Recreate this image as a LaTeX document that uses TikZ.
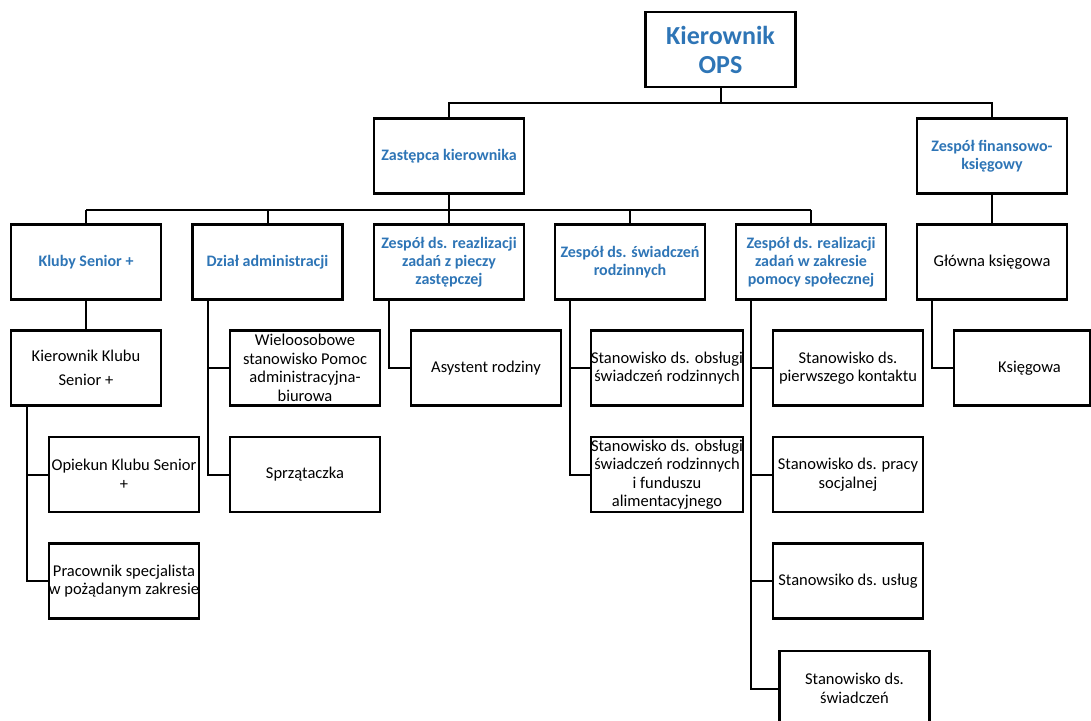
\documentclass[tikz,border=0pt]{standalone}
\usepackage{fontspec}
\setmainfont{Carlito}
\definecolor{headblue}{HTML}{2E75B6}
\tikzset{
  box/.style={draw, line width=2.4pt, minimum width=150pt, minimum height=75pt, inner sep=0pt, align=center},
  head/.style={box, text=headblue, font=\bfseries\fontsize{16}{18}\selectfont},
  plain/.style={box, font=\fontsize{16.5}{18.5}\selectfont},
  conn/.style={line width=2pt},
  busline/.style={line width=2.8pt}
}
\begin{document}
\begin{tikzpicture}[x=1pt,y=-1pt]
\useasboundingbox (0,0) rectangle (1091,720);
\clip (0,0) rectangle (1091,720);
% top
\node[head, font=\bfseries\fontsize{26}{29}\selectfont] (kier) at (720.5,49.5) {Kierownik\\OPS};
\node[head] (zast) at (449,156) {Zastępca kierownika};
\node[head] (fin) at (992,156) {Zespół finansowo-\\księgowy};
% row 2
\node[head] (kluby) at (86,262) {Kluby Senior +};
\node[head] (dzial) at (267.5,262) {Dział administracji};
\node[head] (piecz) at (449,262) {Zespół ds. reazlizacji\\zadań z pieczy\\zastępczej};
\node[head] (swiad) at (630,262) {Zespół ds. świadczeń\\rodzinnych};
\node[head] (pomoc) at (811,262) {Zespół ds. realizacji\\zadań w zakresie\\pomocy społecznej};
\node[plain] (glowna) at (992,262) {Główna księgowa};
% row 3
\node[plain] (kklub) at (86,368) {Kierownik Klubu\\[5.5pt]Senior +};
\node[plain] (wielo) at (305,368) {Wieloosobowe\\stanowisko Pomoc\\administracyjna-\\biurowa};
\node[plain] (asyst) at (486,368) {Asystent rodziny};
\node[plain] (obsl) at (667,368) {Stanowisko ds. obsługi\\świadczeń rodzinnych};
\node[plain] (pierw) at (848,368) {Stanowisko ds.\\pierwszego kontaktu};
\node[plain, minimum width=136pt] (ksieg) at (1022,368) {\hspace*{15pt}Księgowa};
% row 4
\node[plain] (opiek) at (124,474.5) {Opiekun Klubu Senior\\+};
\node[plain] (sprz) at (305,474.5) {Sprzątaczka};
\node[plain] (obsl2) at (667,474.5) {Stanowisko ds. obsługi\\świadczeń rodzinnych\\i funduszu\\alimentacyjnego};
\node[plain] (prac) at (848,474.5) {Stanowisko ds. pracy\\socjalnej};
% row 5
\node[plain] (pracsp) at (124,581) {Pracownik specjalista\\w pożądanym zakresie};
\node[plain] (uslug) at (848,581) {Stanowsiko ds. usług};
% row 6
\node[plain] (swiadcz) at (854.5,688.5) {Stanowisko ds.\\świadczeń};
% connectors
\coordinate (bus1) at (0,103);
\coordinate (bus2) at (0,210);
\draw[conn] (kier.south) -- (kier.south |- bus1);
\draw[conn] (zast.north) -- (zast.north |- bus1) -- (fin.north |- bus1) -- (fin.north);
\draw[busline] (kluby.north |- bus2) -- (pomoc.north |- bus2);
\draw[conn] (zast.south) -- (zast.south |- bus2);
\foreach \n in {kluby,dzial,piecz,swiad,pomoc}
  \draw[conn] (\n.north) -- (\n.north |- bus2);
\draw[conn] (fin.south) -- (glowna.north);
\draw[conn] (kluby.south) -- (kklub.north);
\draw[conn] ([xshift=-59pt]kklub.south) |- (opiek.west);
\draw[conn] ([xshift=-59pt]kklub.south) |- (pracsp.west);
\draw[conn] ([xshift=-60pt]dzial.south) |- (wielo.west);
\draw[conn] ([xshift=-60pt]dzial.south) |- (sprz.west);
\draw[conn] ([xshift=-60pt]piecz.south) |- (asyst.west);
\draw[conn] ([xshift=-60pt]swiad.south) |- (obsl.west);
\draw[conn] ([xshift=-60pt]swiad.south) |- (obsl2.west);
\draw[conn] ([xshift=-60pt]pomoc.south) |- (pierw.west);
\draw[conn] ([xshift=-60pt]pomoc.south) |- (prac.west);
\draw[conn] ([xshift=-60pt]pomoc.south) |- (uslug.west);
\draw[conn] ([xshift=-60pt]pomoc.south) |- (swiadcz.west);
\draw[conn] ([xshift=-60pt]glowna.south) |- (ksieg.west);
\end{tikzpicture}
\end{document}
